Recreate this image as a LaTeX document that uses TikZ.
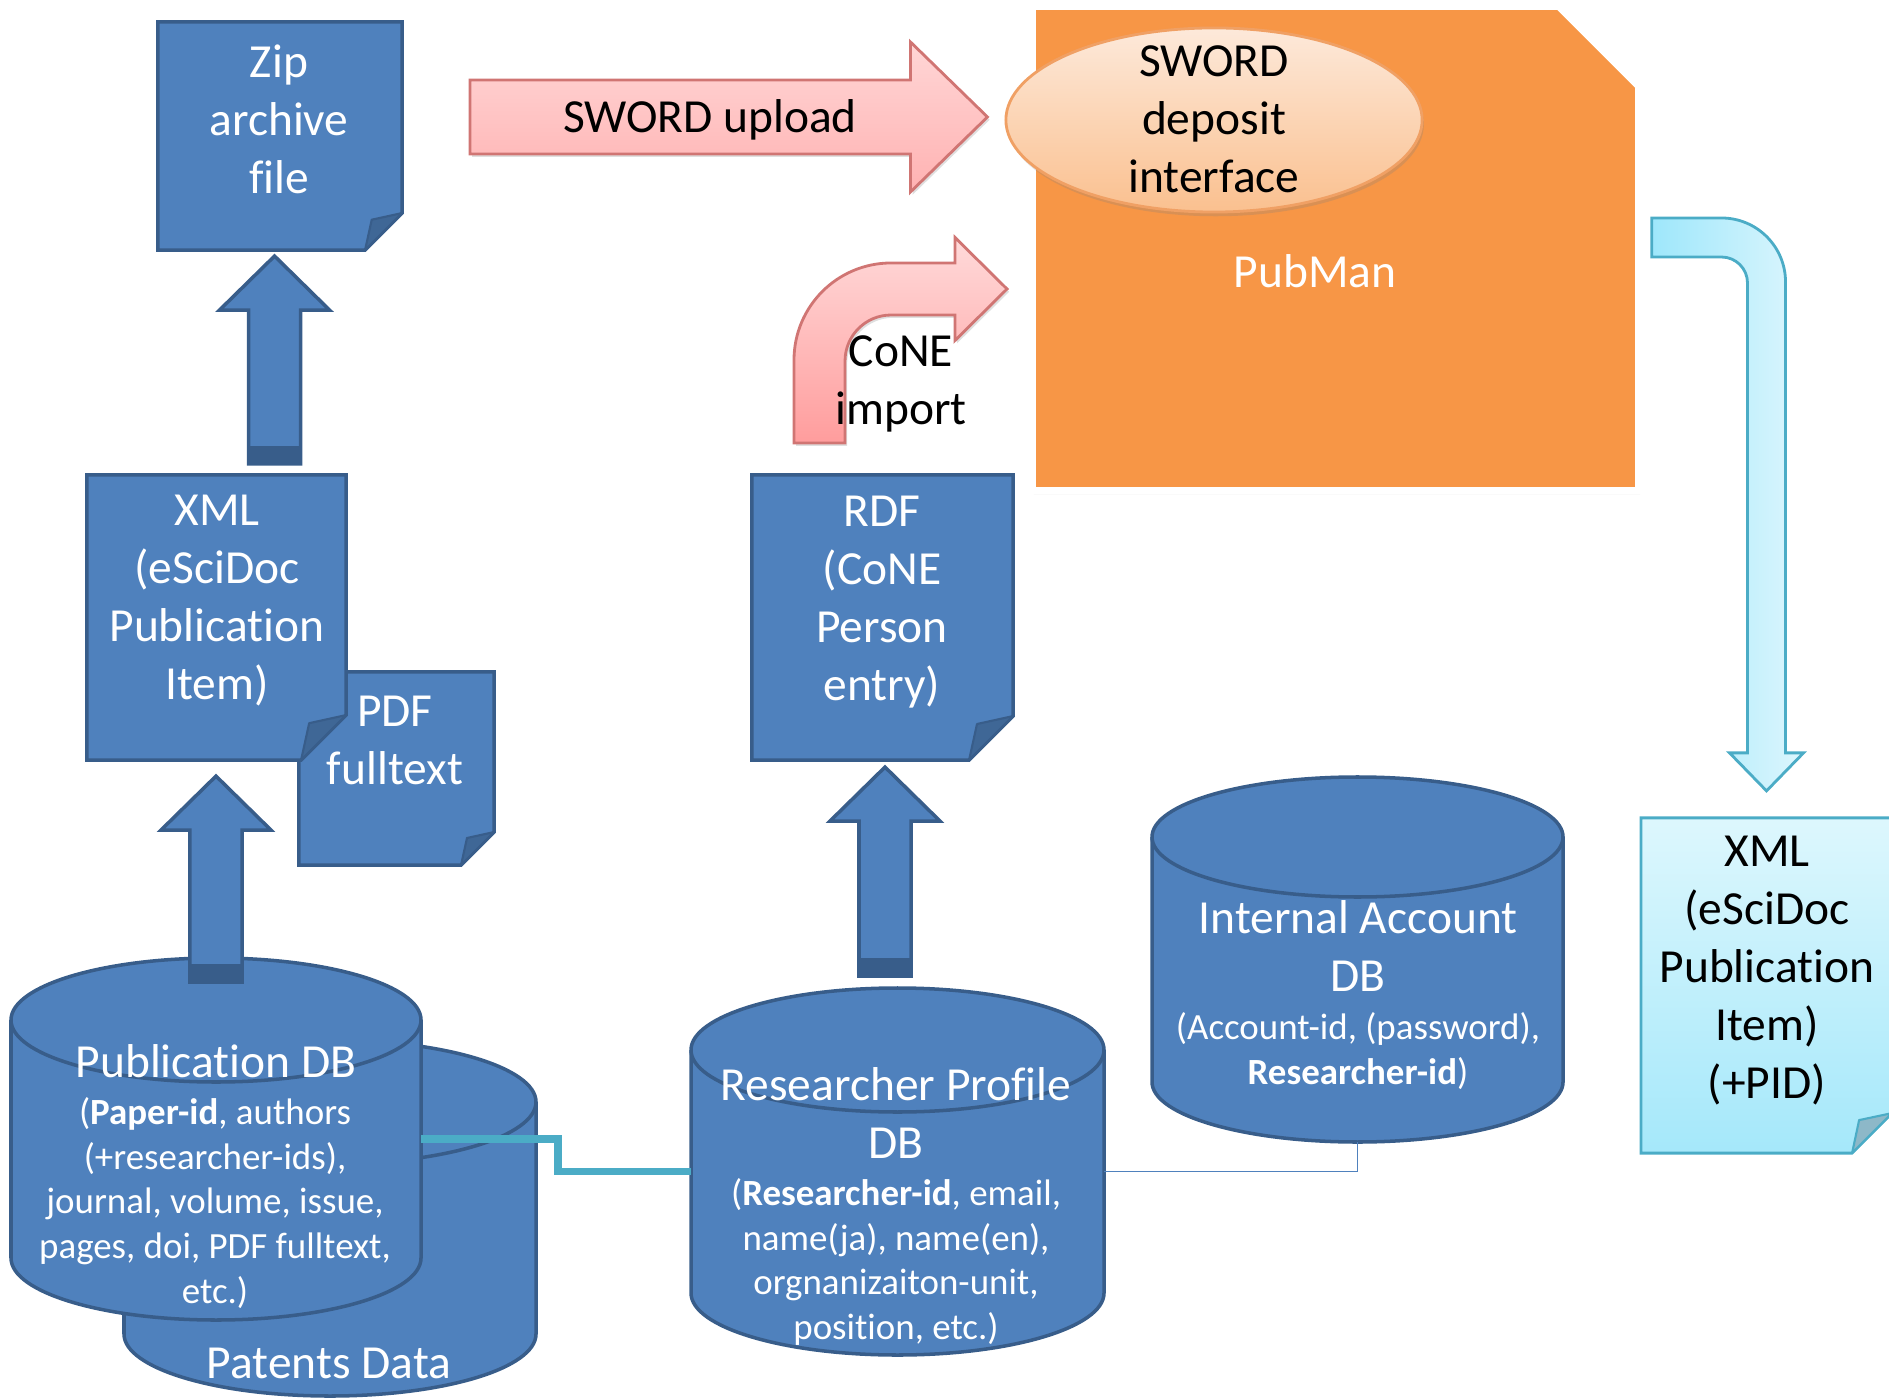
\documentclass[tikz,border=0pt]{standalone}
\usepackage{fontspec}
\setmainfont{Carlito}[Ligatures={TeX,NoCommon}]
\usetikzlibrary{calc,shapes.geometric,shadows}

\definecolor{docblue}{HTML}{4F81BD}
\definecolor{docedge}{HTML}{385D8A}
\definecolor{folddark}{HTML}{3F6796}
\definecolor{pmorange}{HTML}{F79646}
\definecolor{peachtop}{HTML}{FDE9DA}
\definecolor{peachbot}{HTML}{FAC08F}
\definecolor{peachedge}{HTML}{F0A064}
\definecolor{pinktop}{HTML}{FFD6D6}
\definecolor{pinkbot}{HTML}{FFB2B2}
\definecolor{pinkedge}{HTML}{D07573}
\definecolor{cyanedge}{HTML}{4BACC6}
\definecolor{cyanleft}{HTML}{9EE7FB}
\definecolor{cyanright}{HTML}{DDF6FD}
\definecolor{pidtop}{HTML}{DDF7FD}
\definecolor{pidbot}{HTML}{A5E8FA}
\definecolor{pidfold}{HTML}{8DB8C8}

\tikzset{
  docarea/.style={rectangle, inner sep=0pt, outer sep=0pt},
  docfill/.style={draw=docedge, fill=docblue, line width=1pt, line join=miter},
  fold/.style={draw=docedge, fill=folddark, line width=0.6pt, line join=round},
  dbbody/.style={draw=docedge, fill=docblue, line width=1pt},
  bigtext/.style={font=\fontsize{13.5}{16.5}\selectfont, align=center, inner sep=0pt},
  smalltext/.style={font=\fontsize{10.5}{12.7}\selectfont, align=center, inner sep=0pt},
  upblock/.style={draw=docedge, fill=docblue, line width=1pt,
    to path={let \p1=(\tikztostart), \p2=(\tikztotarget) in
      (\x1-0.26cm,\y1) -- (\x1-0.26cm,\y2-0.54cm) -- (\x1-0.55cm,\y2-0.54cm) -- (\x1,\y2)
      -- (\x1+0.55cm,\y2-0.54cm) -- (\x1+0.26cm,\y2-0.54cm) -- (\x1+0.26cm,\y1) -- cycle}},
  rightblock/.style={
    to path={let \p1=(\tikztostart), \p2=(\tikztotarget) in
      (\x1,\y1+0.37cm) -- (\x2-0.77cm,\y1+0.37cm) -- (\x2-0.77cm,\y1+0.75cm) -- (\x2,\y1)
      -- (\x2-0.77cm,\y1-0.75cm) -- (\x2-0.77cm,\y1-0.37cm) -- (\x1,\y1-0.37cm) -- cycle}},
  pinkarrow/.style={draw=pinkedge, line width=0.8pt, top color=pinktop, bottom color=pinkbot,
    drop shadow={opacity=0.25, shadow xshift=0.6pt, shadow yshift=-0.8pt}},
}

% database drum: name, left, right, top, bottom, cap radius
\newcommand{\dbdrum}[6]{%
  \pgfmathsetmacro\drumcx{(#2+#3)/2}
  \pgfmathsetmacro\drumrx{(#3-#2)/2}
  \pgfmathsetmacro\drumtop{#4+#6}
  \pgfmathsetmacro\drumbot{#5-#6}
  \draw[dbbody] (#2,\drumtop) -- (#2,\drumbot)
    arc[start angle=180, end angle=0, x radius=\drumrx, y radius=#6] -- (#3,\drumtop);
  \draw[dbbody] (\drumcx,\drumtop) ellipse[x radius=\drumrx, y radius=#6];
  \node[inner sep=0pt, outer sep=0pt, minimum width={(#3-#2)*0.01cm},
    minimum height={(#5-#4)*0.01cm}] (#1) at (\drumcx,{(#4+#5)/2}) {};
}

\begin{document}
\begin{tikzpicture}[x=0.01cm, y=-0.01cm]
\useasboundingbox (0,0) rectangle (1889,1398);

% databases
\dbdrum{patents}{124}{536}{1040}{1396}{62}
\dbdrum{pubdb}{11}{421}{958}{1320}{62}
\dbdrum{resdb}{691}{1104}{988}{1355}{62}
\dbdrum{accdb}{1152}{1563}{777}{1142}{60}

\coordinate (jog) at (558,1150);
\draw[cyanedge, line width=2pt] (pubdb.east) -| (jog) |- (resdb.west);
\draw[docblue, line width=0.5pt] (accdb.south) |- (resdb.east);

% documents
\node[docarea, minimum width=1.95cm, minimum height=1.93cm] (pdf) at (396.5,768.5) {};
\node[docarea, minimum width=2.59cm, minimum height=2.85cm] (xml) at (216.5,617.5) {};
\node[docarea, minimum width=2.44cm, minimum height=2.28cm] (zip) at (280,136) {};
\node[docarea, minimum width=2.61cm, minimum height=2.85cm] (rdf) at (882.5,617.5) {};
\node[docarea, minimum width=2.51cm, minimum height=3.35cm] (pid) at (1766.5,985.5) {};

\foreach \d/\f in {pdf/33,xml/45,zip/37,rdf/44}{
  \draw[docfill] (\d.north west) -- (\d.north east) -- ($(\d.south east)+(0,-\f)$)
    -- ($(\d.south east)+(-\f,0)$) -- (\d.south west) -- cycle;
  \draw[fold] ($(\d.south east)+(0,-\f)$) -- ($(\d.south east)+(-0.82*\f,-0.82*\f)$)
    -- ($(\d.south east)+(-\f,0)$) -- cycle;
}
\draw[draw=cyanedge, line width=0.8pt, top color=pidtop, bottom color=pidbot]
  (pid.north west) -- (pid.north east) -- ($(pid.south east)+(0,-40)$)
  -- ($(pid.south east)+(-40,0)$) -- (pid.south west) -- cycle;
\draw[fold, draw=cyanedge, fill=pidfold] ($(pid.south east)+(0,-40)$)
  -- ($(pid.south east)+(-33,-33)$) -- ($(pid.south east)+(-40,0)$) -- cycle;

% block arrows
\coordinate (zipfoot) at ([xshift=0.58cm,yshift=0.11cm]xml.north);
\coordinate (ziptip) at ([yshift=-0.06cm]zip.south);
\coordinate (pubfoot) at ([yshift=-0.24cm]pubdb.north);
\coordinate (xmltip) at ([yshift=-0.16cm]xml.south);
\coordinate (rdffoot) at ([xshift=-0.125cm,yshift=0.12cm]resdb.north);
\coordinate (rdftip) at ([yshift=-0.07cm]rdf.south);
\foreach \a/\b in {zipfoot/ziptip, pubfoot/xmltip, rdffoot/rdftip}{
  \draw[upblock] (\a) to (\b);
  \fill[docedge] ([xshift=-0.26cm]\a) rectangle ([xshift=0.26cm,yshift=0.18cm]\a);
}

% PubMan
\node[docarea, minimum width=6.06cm, minimum height=4.84cm] (pubman) at (1335.5,248.5) {};
\draw[fill=pmorange, draw=white, line width=2pt,
  drop shadow={opacity=0.3, shadow xshift=0.4pt, shadow yshift=-1pt}]
  (pubman.south west) -- (pubman.north west) -- ($(pubman.north east)+(-80,0)$)
  -- ($(pubman.north east)+(0,80)$) -- (pubman.south east) -- cycle;
\node[ellipse, draw=peachedge, line width=0.8pt, top color=peachtop, bottom color=peachbot,
  minimum width=4.16cm, minimum height=1.84cm, inner sep=0pt,
  drop shadow={opacity=0.25, shadow xshift=0.5pt, shadow yshift=-1.2pt}] (sword) at (1214,120) {};

% pink arrows
\coordinate (uploadtail) at (470,117);
\draw[pinkarrow, rightblock] (uploadtail) to ([xshift=-0.17cm]sword.west);

\coordinate (conetail) at (819.5,443);
\coordinate (conetip) at (1007,289);
\draw[pinkarrow, top color=pinktop!90!white, bottom color=pinkbot!80!red!60!pinkbot]
  let \p1=(conetail), \p2=(conetip) in
  (\x1-0.255cm,\y1) -- (\x1-0.255cm,\y2-0.71cm) arc[start angle=180, end angle=90, radius=0.97cm]
  -- (\x2-0.52cm,\y2+0.26cm) -- (\x2-0.52cm,\y2+0.515cm) -- (\x2,\y2)
  -- (\x2-0.52cm,\y2-0.515cm) -- (\x2-0.52cm,\y2-0.26cm) -- (\x1+0.715cm,\y2-0.26cm)
  arc[start angle=90, end angle=180, radius=0.46cm] -- (\x1+0.255cm,\y1) -- cycle;

% cyan arrow
\draw[cyanedge, line width=0.8pt, left color=cyanleft, right color=cyanright]
  let \p1=([xshift=0.13cm,yshift=0.11cm]pubman.east), \p2=([yshift=0.27cm]pid.north) in
  (\x1,\y1+0.195cm) -- (\x2-0.45cm,\y1+0.195cm) arc[start angle=90, end angle=0, radius=0.64cm]
  -- (\x2+0.19cm,\y2+0.38cm) -- (\x2+0.37cm,\y2+0.38cm) -- (\x2,\y2)
  -- (\x2-0.37cm,\y2+0.38cm) -- (\x2-0.19cm,\y2+0.38cm) -- (\x2-0.19cm,\y1-0.455cm)
  arc[start angle=0, end angle=90, radius=0.26cm] -- (\x1,\y1-0.195cm) -- cycle;

% texts
\node[bigtext, text=white] (ziplbl) at (279,119) {Zip\\archive\\file};
\node[bigtext, text=white] (xmllbl) at (217,601) {XML\\(eSciDoc\\Publication\\Item)};
\node[bigtext, text=white] (pdflbl) at (395,740) {PDF\\fulltext};
\node[bigtext, text=white] (rdflbl) at (882,602) {RDF\\(CoNE\\Person\\entry)};
\node[bigtext] (pidlbl) at (1767,971) {XML\\(eSciDoc\\Publication\\Item)\\(+PID)};
\node[bigtext] (uploadlbl) at (710,120) {SWORD upload};
\node[bigtext] (swordlbl) at (1214,119) {SWORD\\deposit\\interface};
\node[bigtext, text=white] (pubmanlbl) at (1315,271) {PubMan};
\node[bigtext] (conelbl) at (901,384) {CoNE\\import};
\node[bigtext, text=white] (pubdbttl) at (216,1061) {Publication DB};
\node[smalltext, text=white] (pubdbinfo) at (215,1203)
  {(\textbf{Paper-id}, authors\\(+researcher-ids),\\journal, volume, issue,\\pages, doi, PDF fulltext,\\etc.)};
\node[bigtext, text=white] (patentslbl) at (329,1363) {Patents Data};
\node[bigtext, text=white] (resdbttl) at (896,1113) {Researcher Profile\\DB};
\node[smalltext, text=white] (resdbinfo) at (896,1262)
  {(\textbf{Researcher-id}, email,\\name(ja), name(en),\\orgnanizaiton-unit,\\position, etc.)};
\node[bigtext, text=white] (accdbttl) at (1358,946) {Internal Account\\DB};
\node[smalltext, text=white] (accdbinfo) at (1358,1051) {(Account-id, (password),\\\textbf{Researcher-id})};

\end{tikzpicture}
\end{document}
